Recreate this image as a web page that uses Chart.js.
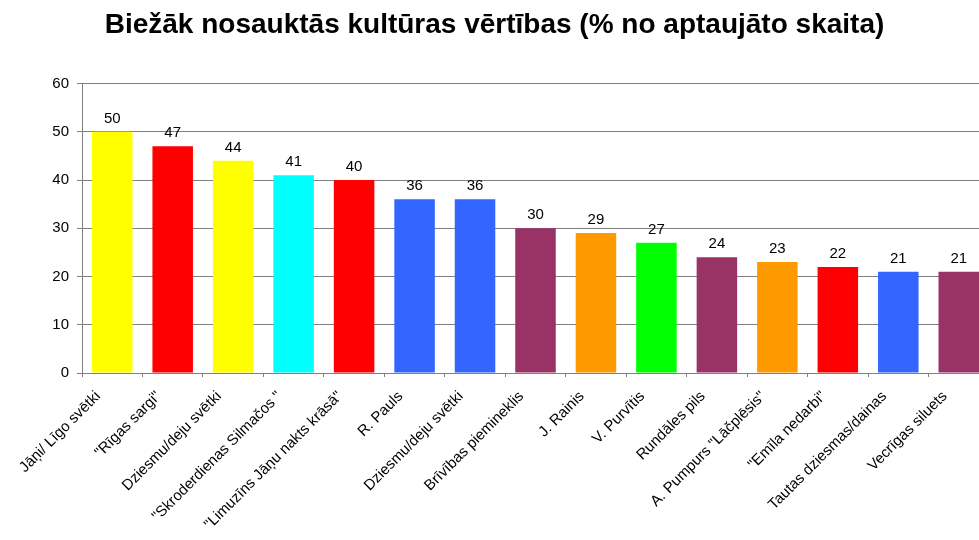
<!DOCTYPE html>
<html>
<head>
<meta charset="utf-8">
<script src="https://cdn.jsdelivr.net/npm/chart.js@4"></script>
<style>
  html, body { margin: 0; padding: 0; background: #fff; overflow: hidden; }
  #wrap { width: 979px; height: 540px; overflow: hidden; }
</style>
</head>
<body>
<div id="wrap"><canvas id="cultureChart" width="995" height="540"></canvas></div>
<script>
// ===== Data =====
const categories = [
    'Jāņi/ Līgo svētki',
    '"Rīgas sargi"',
    'Dziesmu/deju svētki',
    '"Skroderdienas Silmačos "',
    '"Limuzīns Jāņu nakts krāsā"',
    'R. Pauls',
    'Dziesmu/deju svētki',
    'Brīvības piemineklis',
    'J. Rainis',
    'V. Purvītis',
    'Rundāles pils',
    'A. Pumpurs "Lāčplēsis"',
    '"Emīla nedarbi"',
    'Tautas dziesmas/dainas',
    'Vecrīgas siluets'
];
const percentValues = [50, 47, 44, 41, 40, 36, 36, 30, 29, 27, 24, 23, 22, 21, 21];
const barColors = [
    '#FFFF00', '#FF0000', '#FFFF00', '#00FFFF', '#FF0000',
    '#3366FF', '#3366FF', '#993366', '#FF9900', '#00FF00',
    '#993366', '#FF9900', '#FF0000', '#3366FF', '#993366'
];
const yTicks = [0, 10, 20, 30, 40, 50, 60];

const fontFamily = "'Liberation Sans', Arial, sans-serif";
const gridColor = '#808080';

// value labels above each bar + rotated category labels (Excel style)
const labelsPlugin = {
    id: 'labelsPlugin',
    afterDatasetsDraw(chart) {
        const ctx = chart.ctx;
        const meta = chart.getDatasetMeta(0);
        ctx.save();
        ctx.font = `15px ${fontFamily}`;
        ctx.fillStyle = '#000';
        ctx.textAlign = 'center';
        ctx.textBaseline = 'alphabetic';
        meta.data.forEach((bar, i) => {
            ctx.fillText(String(percentValues[i]), bar.x, bar.y - 9);
        });

        // category labels, anchored at the right end near the tick
        const xScale = chart.scales.x;
        ctx.textAlign = 'right';
        ctx.textBaseline = 'middle';
        categories.forEach((label, i) => {
            const x = xScale.getPixelForValue(i) - 14;
            const y = xScale.top + 21;
            ctx.save();
            ctx.translate(x, y);
            ctx.rotate(-Math.PI / 4);
            ctx.fillText(label, 0, 0);
            ctx.restore();
        });
        ctx.restore();
    }
};

const ctx = document.getElementById('cultureChart').getContext('2d');
new Chart(ctx, {
    type: 'bar',
    data: {
        labels: categories,
        datasets: [{
            data: percentValues,
            backgroundColor: barColors,
            borderWidth: 0,
            categoryPercentage: 1,
            barPercentage: 0.67
        }]
    },
    options: {
        responsive: false,
        animation: false,
        layout: { padding: { left: 0, right: 6, top: 0, bottom: 0 } },
        plugins: {
            legend: { display: false },
            tooltip: { enabled: false },
            title: {
                display: true,
                text: 'Biežāk nosauktās kultūras vērtības (% no aptaujāto skaita)',
                color: '#000',
                font: { family: fontFamily, size: 28, weight: 'bold' },
                padding: { top: 8, bottom: 42 }
            }
        },
        scales: {
            x: {
                grid: { display: true, drawOnChartArea: false, drawTicks: true, tickLength: 4, offset: true, color: gridColor },
                border: { display: true, color: gridColor, width: 1 },
                ticks: { display: false },
                afterFit: (scale) => { scale.height = 167; }
            },
            y: {
                min: 0,
                max: 60,
                afterBuildTicks: (scale) => { scale.ticks = yTicks.map(v => ({ value: v })); },
                grid: { color: gridColor, tickLength: 5, drawTicks: true },
                border: { display: true, color: gridColor, width: 1 },
                ticks: {
                    color: '#000',
                    font: { family: fontFamily, size: 15 },
                    padding: 8
                },
                afterFit: (scale) => { scale.width = 82; }
            }
        }
    },
    plugins: [labelsPlugin]
});
</script>
</body>
</html>
